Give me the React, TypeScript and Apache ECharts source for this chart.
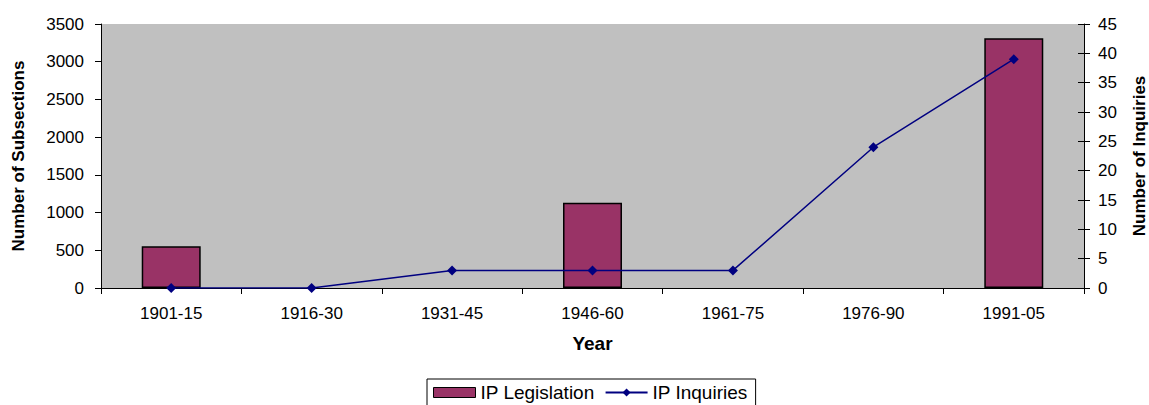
import React, { useEffect, useRef } from "react";
import * as echarts from "echarts";

const categories = ["1901-15", "1916-30", "1931-45", "1946-60", "1961-75", "1976-90", "1991-05"];
const legislation: (number | null)[] = [555, null, null, 1130, null, null, 3310];
const inquiries = [0, 0, 3, 3, 3, 24, 39];

const FONT = "'Liberation Sans', Arial, sans-serif";

export default function App() {
  const ref = useRef<HTMLDivElement>(null);
  useEffect(() => {
    const chart = echarts.init(ref.current!, null, { renderer: "svg" });
    const nameStyle = { fontFamily: FONT, fontSize: 17, fontWeight: "bold", color: "#000" };
    const labelStyle = { fontFamily: FONT, fontSize: 17, color: "#000" };
    chart.setOption({
      animation: false,
      textStyle: { fontFamily: FONT, color: "#000" },
      grid: {
        left: 101, right: 65, top: 24, bottom: 117,
        outerBoundsMode: "none",
        containLabel: false,
        show: true, backgroundColor: "#C0C0C0", borderWidth: 0,
      },
      legend: {
        top: 379,
        left: 427,
        itemGap: 10,
        itemWidth: 42,
        itemHeight: 10,
        borderColor: "#000",
        borderWidth: 1,
        padding: [4, 8, 8, 6],
        textStyle: { fontFamily: FONT, fontSize: 19, color: "#000" },
        data: [
          { name: "IP Legislation", icon: "rect", itemStyle: { borderColor: "#000", borderWidth: 1 } },
          { name: "IP Inquiries" },
        ],
      },
      xAxis: {
        type: "category",
        data: categories,
        name: "Year",
        nameLocation: "middle",
        nameGap: 46,
        nameTextStyle: { ...nameStyle, fontSize: 19 },
        axisLine: { lineStyle: { color: "#000" } },
        axisTick: { show: true, length: 6, lineStyle: { color: "#000" } },
        axisLabel: { ...labelStyle, margin: 17 },
      },
      yAxis: [
        {
          type: "value",
          min: 0,
          max: 3500,
          interval: 500,
          name: "Number of Subsections",
          nameLocation: "middle",
          nameGap: 74,
          nameTextStyle: nameStyle,
          axisLine: { show: true, lineStyle: { color: "#000" } },
          axisTick: { show: true, length: 6, lineStyle: { color: "#000" } },
          axisLabel: { ...labelStyle, margin: 17, formatter: (v: number) => String(v) },
          splitLine: { show: false },
        },
        {
          type: "value",
          min: 0,
          max: 45,
          interval: 5,
          name: "Number of Inquiries",
          nameLocation: "middle",
          nameGap: 47,
          nameTextStyle: nameStyle,
          axisLine: { show: true, lineStyle: { color: "#000" } },
          axisTick: { show: true, length: 6, lineStyle: { color: "#000" } },
          axisLabel: { ...labelStyle, margin: 14 },
          splitLine: { show: false },
        },
        {
          type: "value",
          position: "right",
          min: 0,
          max: 45,
          interval: 5,
          axisLine: { show: false },
          axisTick: { show: true, inside: true, length: 6, lineStyle: { color: "#000" } },
          axisLabel: { show: false },
          splitLine: { show: false },
        },
      ],
      series: [
        {
          name: "IP Legislation",
          type: "bar",
          data: legislation,
          barWidth: "42%",
          itemStyle: { color: "#993366", borderColor: "#000", borderWidth: 1.5 },
        },
        {
          name: "IP Inquiries",
          type: "line",
          yAxisIndex: 1,
          data: inquiries,
          symbol: "diamond",
          symbolSize: 10,
          lineStyle: { color: "#000080", width: 1.5 },
          itemStyle: { color: "#000080" },
        },
      ],
    });
    return () => chart.dispose();
  }, []);
  return <div ref={ref} style={{ width: 1149, height: 405, position: "absolute", left: 0, top: 0, background: "#fff" }} />;
}
